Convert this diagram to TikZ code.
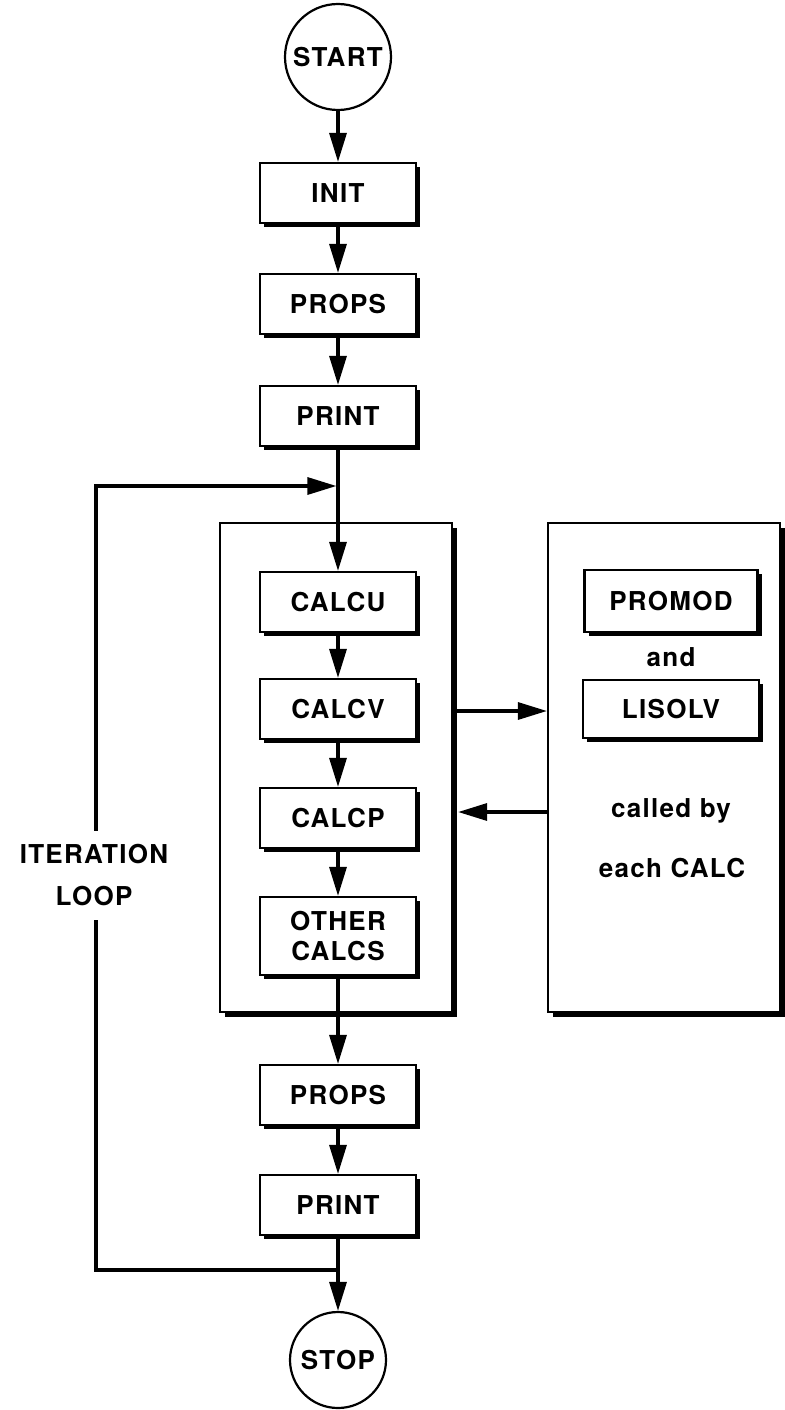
\documentclass[tikz,border=0pt]{standalone}
\usepackage{fontspec}
\setmainfont{TeX Gyre Heros}[LetterSpace=5]
\usetikzlibrary{arrows.meta,shadows,calc}
\begin{document}
\begin{tikzpicture}[x=1pt,y=-1pt,
  txt/.style={font=\fontsize{26}{30}\selectfont\bfseries},
  bx/.style={txt, draw, fill=white, line width=2.2pt, minimum width=156pt, minimum height=60pt, inner sep=0pt,
    general shadow={fill=black, shadow xshift=4pt, shadow yshift=-4pt}},
  cont/.style={draw, fill=white, line width=2.2pt, minimum width=232pt, minimum height=489pt, inner sep=0pt,
    general shadow={fill=black, shadow xshift=5pt, shadow yshift=-5pt}},
  term/.style={txt, circle, draw, line width=2.2pt, inner sep=0pt},
  ln/.style={line width=3.2pt},
  arr/.style={line width=3.2pt, -{Triangle[length=29pt,width=17pt]}}]
\useasboundingbox (0,0) rectangle (784,1410);
% containers
\node[cont] (big) at (336,767.5) {};
\node[cont] (side) at (664,767.5) {};
% main column
\node[term, minimum size=106pt] (start) at (338,57) {START};
\node[bx] (init) at (338,193) {INIT};
\node[bx] (props) at (338,304) {PROPS};
\node[bx] (print) at (338,416) {PRINT};
\node[bx] (calcu) at (338,602) {CALCU};
\node[bx] (calcv) at (338,709) {CALCV};
\node[bx] (calcp) at (338,818) {CALCP};
\node[bx, minimum height=78pt, align=center] (other) at (338,936) {OTHER\\CALCS};
\node[bx] (props2) at (338,1095) {PROPS};
\node[bx] (print2) at (338,1205) {PRINT};
\node[term, minimum size=96pt] (stop) at (338,1360) {STOP};
% right column
\node[bx, minimum width=173pt, minimum height=62pt] (promod) at (671,601) {PROMOD};
\node[txt, anchor=base] (and) at (671,666) {and};
\node[bx, minimum width=176pt, minimum height=58pt] (lisolv) at (671,709) {LISOLV};
\node[txt, anchor=base] (called) at (671,817) {called by};
\node[txt, anchor=base] (each) at (672,877) {each CALC};
% loop label
\node[txt, align=center, minimum height=89pt, inner sep=0pt] (iter) at (94,875.5) {ITERATION\\[12pt]LOOP};
% connectors
\draw[arr] (start) -- (init);
\draw[arr] (init) -- (props);
\draw[arr] (props) -- (print);
\draw[arr] (print) -- (calcu);
\draw[arr] (calcu) -- (calcv);
\draw[arr] (calcv) -- (calcp);
\draw[arr] (calcp) -- (other);
\draw[arr] (other) -- (props2);
\draw[arr] (props2) -- (print2);
\draw[arr] (print2) -- (stop);
\coordinate (ya) at (0,711);
\coordinate (yb) at (0,812);
\draw[arr] (big.east |- ya) -- (side.west |- ya);
\draw[arr] (side.west |- yb) -- ($(big.east |- yb)+(5,0)$);
\coordinate (LT) at (96,486);
\coordinate (LB) at (96,1270);
\draw[ln] (print2.south |- LB) -- (LB) -- (LB |- iter.south);
\draw[arr] (LB |- iter.north) -- (LT) -- ($(print.south |- LT)+(-1.6,0)$);
\end{tikzpicture}
\end{document}
